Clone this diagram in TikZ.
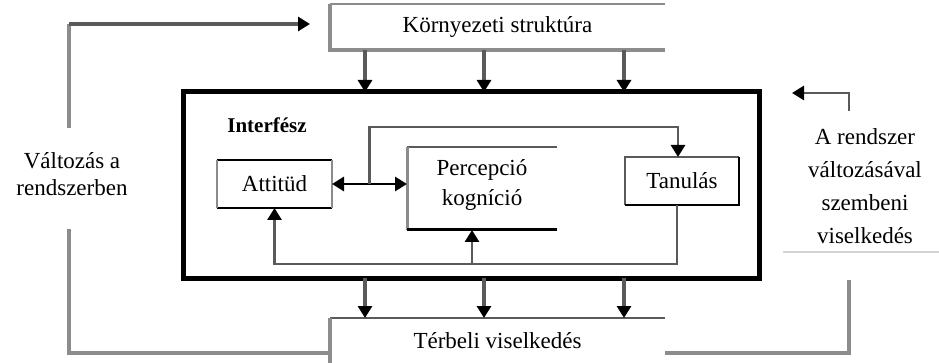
\documentclass[tikz,border=0pt]{standalone}
\usepackage{fontspec}
\setmainfont{Liberation Serif}
\usetikzlibrary{arrows.meta,calc}
\definecolor{lg}{HTML}{8C8C8C}
\definecolor{dg}{HTML}{5A5A5A}
\definecolor{vlg}{HTML}{D4D4D4}
\begin{document}
\begin{tikzpicture}[x=1pt,y=-1pt,
  txt/.style={font=\fontsize{23}{27}\selectfont},
  box/.style={draw=none, inner sep=0pt, outer sep=0pt, txt, align=center},
  tip/.style={-{Triangle[color=black,length=12pt,width=14pt]}},
  gline/.style={draw=lg, line width=3.4pt},
  arr/.style={draw=dg, line width=3.2pt, tip},
  iarr/.style={draw=dg, line width=2.8pt, tip},
]
\useasboundingbox[fill=white] (0,0) rectangle (939,363);

% boxes
\node[box, minimum width=335pt, minimum height=46pt] (env) at (497.5,27) {Környezeti struktúra};
\draw[lg, line width=1.4pt] (env.north west) -- (env.north east);
\draw[lg, line width=3.2pt] (env.north west) -- (env.south west) -- (env.south east);

\node[draw=black, line width=5pt, minimum width=576pt, minimum height=186pt, inner sep=0pt, outer sep=0pt] (inter) at (471,185) {};
\node[font=\fontsize{21}{25}\selectfont\bfseries] (ilbl) at (267,125) {Interfész};

\node[box, minimum width=115pt, minimum height=48pt] (att) at (274.5,184) {Attitüd};
\draw[black, line width=2.6pt] (att.north west) -- (att.north east) (att.south west) -- (att.south east);
\draw[lg, line width=2.6pt] (att.north west) -- (att.south west) (att.north east) -- (att.south east);

\node[box, minimum width=150pt, minimum height=83pt] (perc) at (482,188.5) {};
\node[txt, align=center, font=\fontsize{23}{30}\selectfont] (perct) at (482,185) {Percepció\\kogníció};
\draw[dg, line width=2.2pt] (perc.north east) -- (perc.north west);
\draw[lg, line width=3pt] (perc.north west) -- (perc.south west);
\draw[black, line width=3pt] (perc.south west) -- (perc.south east);

\node[box, minimum width=114pt, minimum height=48pt] (tan) at (682,181) {Tanulás};
\draw[dg, line width=2.4pt] (tan.south west) -- (tan.north west) -- (tan.north east);
\draw[black, line width=2.6pt] (tan.north east) -- (tan.south east) -- (tan.south west);

\node[box, minimum width=335pt, minimum height=45pt] (ter) at (497.5,340.5) {Térbeli viselkedés};
\draw[dg, line width=2pt] (ter.north west) -- (ter.north east);
\draw[lg, line width=3.2pt] (ter.north west) -- (ter.south west);

% side texts
\node[txt, align=center] (lt) at (72,174) {Változás a\\rendszerben};
\node[txt, align=center, font=\fontsize{23}{33}\selectfont] (rt) at (865,186) {A rendszer\\változásával\\szembeni\\viselkedés};
\draw[vlg, line width=2.4pt] (783,252) -- (939,252);

% column coordinates
\coordinate (k1) at (365,0);
\coordinate (k2) at (484,0);
\coordinate (k3) at (624,0);
\foreach \k in {k1,k2,k3}{
  \draw[arr] (env.south -| \k) -- (inter.north -| \k);
  \draw[arr] (inter.south -| \k) -- (ter.north -| \k);
}

% double arrow
\draw[black, line width=2.8pt, {Triangle[length=12pt,width=14pt]}-{Triangle[length=12pt,width=14pt]}] (att.east) -- (perc.west |- att.east);
\coordinate (j1) at ($(att.east)!0.5!(perc.west |- att.east)$);
\draw[iarr] (j1) |- ([xshift=-4pt,yshift=30pt]tan.north) -- ([xshift=-4pt]tan.north);

% inner feedback
\coordinate (fb) at (0,264);
\coordinate (ts) at ([xshift=-5pt]tan.south);
\coordinate (pb) at ([xshift=-10pt]perc.south);
\draw[iarr] (ts) |- (fb -| att.south) -- (att.south);
\draw[iarr] (pb |- fb) -- (pb);

% left loop
\coordinate (yb) at (0,353);
\coordinate (L1) at (69,229);
\coordinate (L2) at (69,128);
\coordinate (ea) at (310,24);
\draw[gline] (ter.west |- yb) -| (L1);
\draw[gline] (L2) -- (L2 |- ea);
\draw[arr] (L2 |- ea) -- (ea);

% right loop
\coordinate (R1) at (849,280);
\coordinate (R2) at (849,111);
\coordinate (ra) at (792,93);
\draw[gline] (ter.east |- yb) -| (R1);
\draw[iarr] (R2) |- (ra);
\end{tikzpicture}
\end{document}
